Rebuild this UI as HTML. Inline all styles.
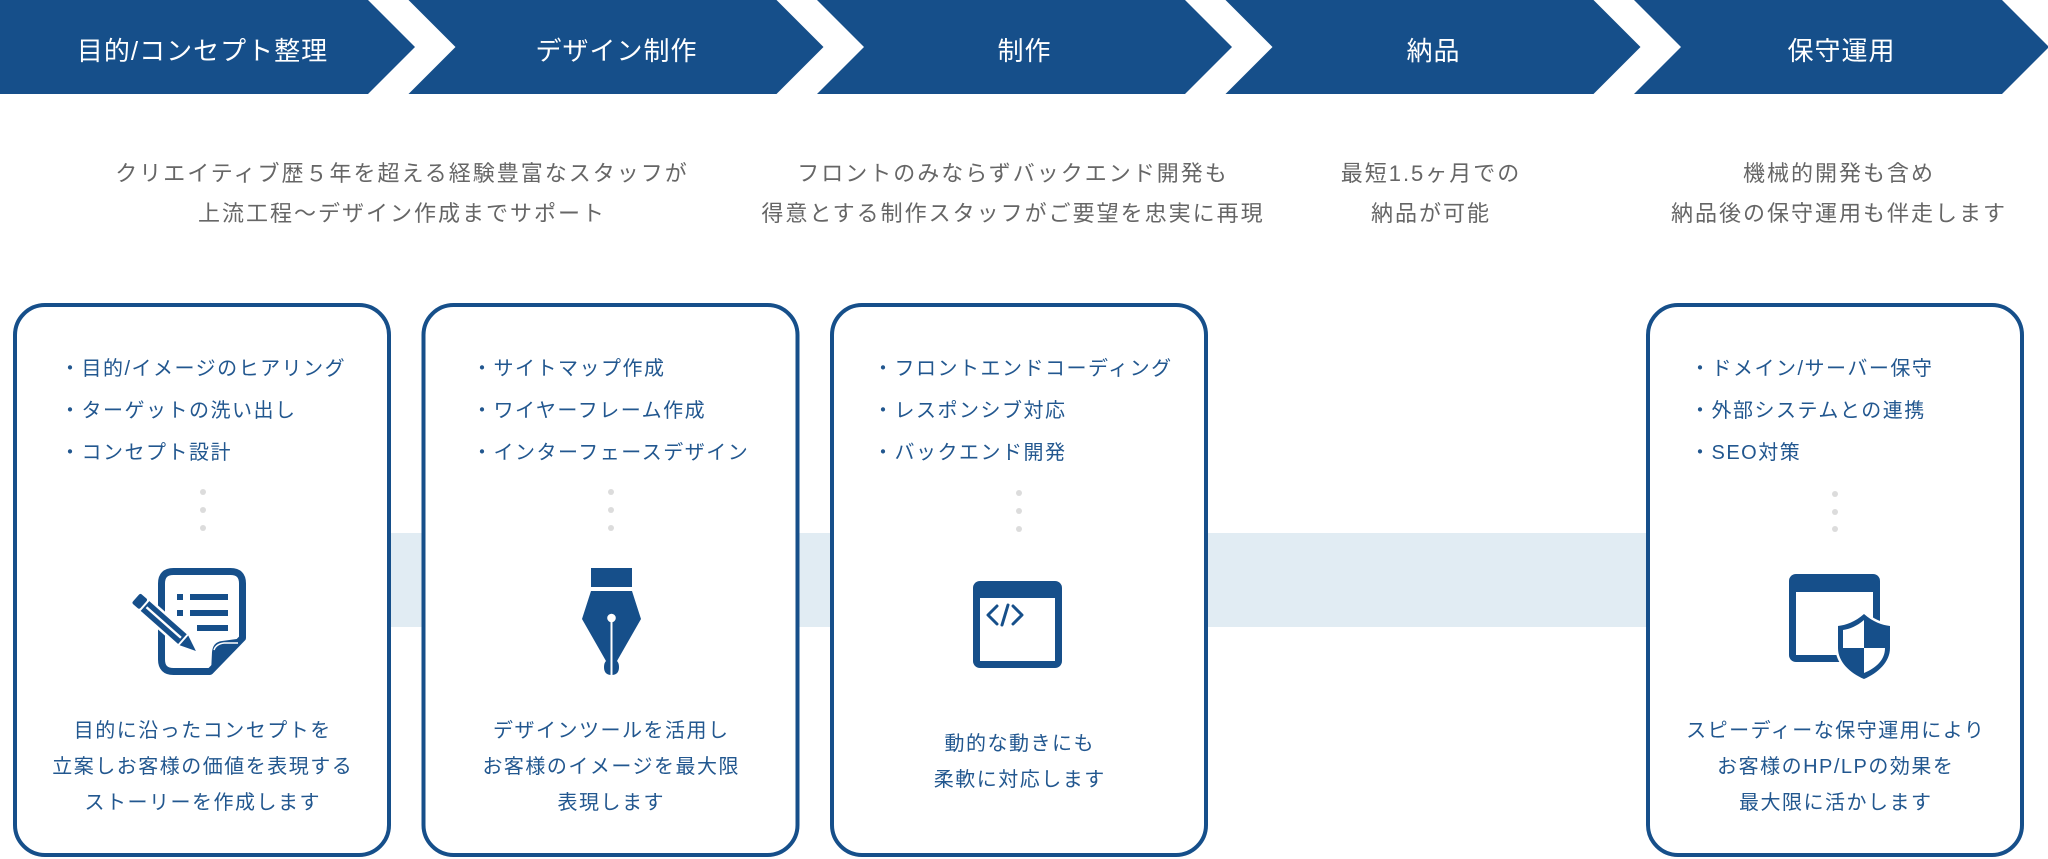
<!DOCTYPE html>
<html lang="ja">
<head>
<meta charset="utf-8">
<style>
  html,body{margin:0;padding:0;background:#fff;}
  #wrap{position:relative;width:2048px;height:859px;overflow:hidden;background:#fff;
    font-family:"Liberation Sans","Noto Sans CJK JP",sans-serif;}
  svg{position:absolute;left:0;top:0;}
  .t{position:absolute;white-space:nowrap;}
  .title{top:4px;height:94px;line-height:94px;color:#fff;font-size:26px;letter-spacing:1px;text-align:center;width:400px;padding-left:1px;box-sizing:border-box;}
  .desc{top:154px;line-height:40px;color:#666;font-size:22px;letter-spacing:2px;text-align:center;width:800px;font-weight:400;padding-left:2px;box-sizing:border-box;}
  .list{top:348px;line-height:42px;color:#22578f;font-size:20px;letter-spacing:1.5px;text-align:left;}
  .bot{line-height:36px;color:#22578f;font-size:20px;letter-spacing:1.5px;text-align:center;width:378px;padding-left:1.5px;box-sizing:border-box;}
</style>
</head>
<body>
<div id="wrap">
<svg width="2048" height="859" viewBox="0 0 2048 859" xmlns="http://www.w3.org/2000/svg">
  <!-- header arrows -->
  <g fill="#164f8a">
    <polygon points="0,0 368,0 415,47 368,94 0,94"/>
    <polygon points="408.5,0 776.5,0 823.5,47 776.5,94 408.5,94 455.5,47"/>
    <polygon points="817,0 1185,0 1232,47 1185,94 817,94 864,47"/>
    <polygon points="1225.5,0 1593.5,0 1640.5,47 1593.5,94 1225.5,94 1272.5,47"/>
    <polygon points="1634,0 2002,0 2049,47 2002,94 1634,94 1681,47"/>
  </g>
  <!-- band -->
  <rect x="200" y="533" width="1640" height="94" fill="#e1ecf3"/>
  <!-- cards -->
  <g fill="#fff" stroke="#164f8a" stroke-width="4">
    <rect x="15" y="305" width="374" height="550" rx="30"/>
    <rect x="423.5" y="305" width="374" height="550" rx="30"/>
    <rect x="832" y="305" width="374" height="550" rx="30"/>
    <rect x="1648" y="305" width="374" height="550" rx="30"/>
  </g>
  <!-- dots -->
  <g fill="#dcdcdc">
    <circle cx="203" cy="492" r="3"/><circle cx="203" cy="510" r="3"/><circle cx="203" cy="528" r="3"/>
    <circle cx="611" cy="492" r="3"/><circle cx="611" cy="510" r="3"/><circle cx="611" cy="528" r="3"/>
    <circle cx="1019" cy="493" r="3"/><circle cx="1019" cy="511" r="3"/><circle cx="1019" cy="529" r="3"/>
    <circle cx="1835" cy="494" r="3"/><circle cx="1835" cy="512" r="3"/><circle cx="1835" cy="529" r="3"/>
  </g>

  <!-- icon 1: document + pencil -->
  <g>
    <path d="M173.5,571.5 H230.5 Q242.5,571.5 242.5,583.5 V638 L210,671.5 H173.5 Q161.5,671.5 161.5,659.5 V583.5 Q161.5,571.5 173.5,571.5 Z"
          fill="none" stroke="#164f8a" stroke-width="7" stroke-linejoin="round"/>
    <path d="M244,638 L211,673 L212,652 Q213,642 222,641 Z" fill="#164f8a"/>
    <path d="M214,650 Q216,644 224,643 L238,643" fill="none" stroke="#fff" stroke-width="1.5"/>
    <g fill="#164f8a">
      <rect x="177" y="594" width="6" height="6"/>
      <rect x="190" y="594" width="38" height="6"/>
      <rect x="177" y="610" width="6" height="6"/>
      <rect x="190" y="610" width="38" height="6"/>
      <rect x="197" y="625" width="31" height="6"/>
    </g>
    <g transform="translate(136,598) rotate(41.5)">
      <rect x="-3" y="-9" width="86" height="18" fill="#fff"/>
      <rect x="0" y="-6.5" width="10" height="13" rx="2" fill="#164f8a"/>
      <rect x="12" y="-6.5" width="50" height="13" fill="#164f8a"/>
      <rect x="14" y="-1.2" width="46" height="2.4" fill="#fff"/>
      <polygon points="64,-6.5 64,6.5 80,0" fill="#164f8a"/>
    </g>
  </g>

  <!-- icon 2: fountain pen nib -->
  <g fill="#164f8a">
    <rect x="591" y="568" width="41" height="19"/>
    <path d="M591,591 H632 L641,619 L617,661 Q619,663 619,667 Q619,675 611.5,675 Q604,675 604,667 Q604,663 606,661 L582,619 Z"/>
    <circle cx="611.5" cy="618" r="4.3" fill="#fff"/>
    <rect x="610.5" y="620" width="2" height="55" fill="#fff"/>
  </g>

  <!-- icon 3: code window -->
  <g>
    <rect x="973" y="581" width="89" height="87" rx="7" fill="#164f8a"/>
    <rect x="980" y="598" width="75" height="63" fill="#fff"/>
    <g fill="none" stroke="#164f8a" stroke-width="3" stroke-linecap="round" stroke-linejoin="round">
      <polyline points="997,606 988,615 997,624"/>
      <line x1="1008" y1="605" x2="1002" y2="625"/>
      <polyline points="1013,606 1022,615 1013,624"/>
    </g>
  </g>

  <!-- icon 4: window + shield -->
  <defs>
    <clipPath id="shin">
      <path d="M1864,620 C1857,626 1850,629 1843,630 V648 C1843,660 1852,668 1864,673 C1876,668 1885,660 1885,648 V630 C1878,629 1871,626 1864,620 Z"/>
    </clipPath>
  </defs>
  <g>
    <rect x="1789" y="574" width="91" height="88" rx="7" fill="#164f8a"/>
    <rect x="1796" y="592" width="77" height="63" fill="#fff"/>
    <path d="M1864,614 C1855,622 1846,625 1838,626 V648 C1838,662 1850,673 1864,679 C1878,673 1890,662 1890,648 V626 C1882,625 1873,622 1864,614 Z"
          fill="#164f8a" stroke="#fff" stroke-width="5" paint-order="stroke"/>
    <g clip-path="url(#shin)" fill="#fff">
      <rect x="1840" y="615" width="24" height="33"/>
      <rect x="1864" y="648" width="26" height="30"/>
    </g>
  </g>
</svg>

<!-- titles -->
<div class="t title" style="left:2px;">目的/コンセプト整理</div>
<div class="t title" style="left:416px;">デザイン制作</div>
<div class="t title" style="left:824px;">制作</div>
<div class="t title" style="left:1233px;">納品</div>
<div class="t title" style="left:1641px;">保守運用</div>

<!-- descriptions -->
<div class="t desc" style="left:1px;">クリエイティブ歴５年を超える経験豊富なスタッフが<br>上流工程〜デザイン作成までサポート</div>
<div class="t desc" style="left:612px;">フロントのみならずバックエンド開発も<br>得意とする制作スタッフがご要望を忠実に再現</div>
<div class="t desc" style="left:1030px;">最短1.5ヶ月での<br>納品が可能</div>
<div class="t desc" style="left:1438px;">機械的開発も含め<br>納品後の保守運用も伴走します</div>

<!-- lists -->
<div class="t list" style="left:60px;">・目的/イメージのヒアリング<br>・ターゲットの洗い出し<br>・コンセプト設計</div>
<div class="t list" style="left:472px;">・サイトマップ作成<br>・ワイヤーフレーム作成<br>・インターフェースデザイン</div>
<div class="t list" style="left:873px;">・フロントエンドコーディング<br>・レスポンシブ対応<br>・バックエンド開発</div>
<div class="t list" style="left:1690px;">・ドメイン/サーバー保守<br>・外部システムとの連携<br>・SEO対策</div>

<!-- bottom texts -->
<div class="t bot" style="left:13px;top:713px;">目的に沿ったコンセプトを<br>立案しお客様の価値を表現する<br>ストーリーを作成します</div>
<div class="t bot" style="left:421.5px;top:713px;">デザインツールを活用し<br>お客様のイメージを最大限<br>表現します</div>
<div class="t bot" style="left:830px;top:726px;">動的な動きにも<br>柔軟に対応します</div>
<div class="t bot" style="left:1646px;top:713px;">スピーディーな保守運用により<br>お客様のHP/LPの効果を<br>最大限に活かします</div>
</div>
</body>
</html>
